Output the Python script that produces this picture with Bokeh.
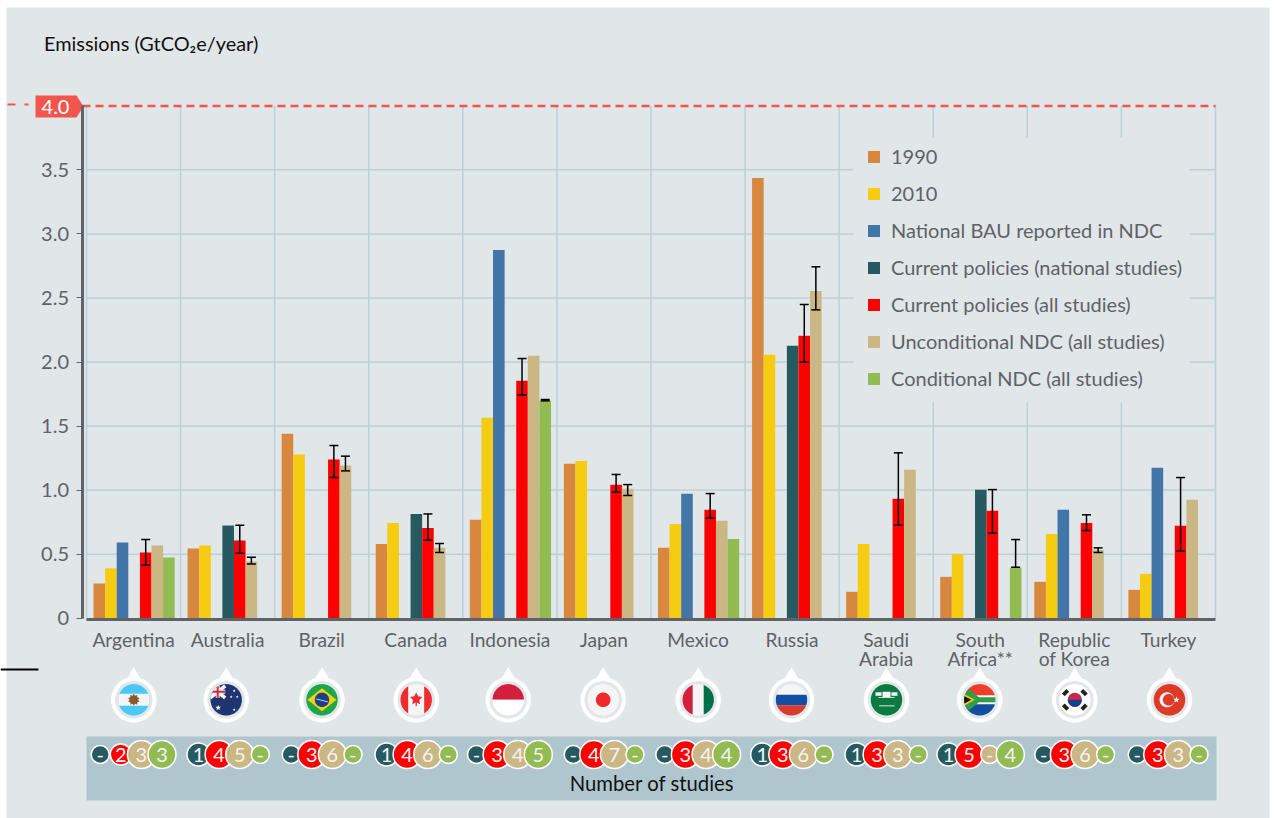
import numpy as np
from bokeh.embed import file_html
from bokeh.resources import INLINE
from bokeh.plotting import figure
from bokeh.core.properties import value
from bokeh.models import LinearAxis, FixedTicker, Range1d

# ---------- data ----------
countries = ["Argentina", "Australia", "Brazil", "Canada", "Indonesia", "Japan", "Mexico", "Russia",
             "Saudi\nArabia", "South\nAfrica**", "Republic\nof Korea", "Turkey"]
y1990   = [.27, .544, 1.44, .58, .768, 1.205, .549, 3.437, .206, .323, .284, .221]
y2010   = [.39, .567, 1.278, .744, 1.564, 1.228, .736, 2.056, .58, .502, .658, .346]
bau     = [.59, None, None, None, 2.875, None, .971, None, None, None, .846, 1.174]
cp_nat  = [None, .723, None, .814, None, None, None, 2.126, None, 1.002, None, None]
cp_all  = [.513, .606, 1.239, .705, 1.853, 1.041, .846, 2.204, .932, .838, .744, .721]
uncond  = [.567, .442, 1.192, .549, 2.048, 1.01, .76, 2.555, 1.158, None, .533, .924]
cond    = [.474, None, None, None, 1.697, None, .619, None, None, .393, None, None]
cp_low  = [.414, .507, 1.098, .609, 1.743, .984, .781, 1.998, .726, .664, .684, .523]
cp_high = [.614, .726, 1.348, .814, 2.027, 1.122, .973, 2.449, 1.291, 1.004, .807, 1.098]
un_low  = [None, .424, 1.15, .513, None, .958, None, 2.407, None, None, .513, None]
un_high = [None, .476, 1.265, .583, None, 1.043, None, 2.743, None, None, .549, None]
co_low  = [None, None, None, None, 1.697, None, None, None, None, .398, None, None]
co_high = [None, None, None, None, 1.707, None, None, None, None, .614, None, None]

n_cp_nat = ["-", "1", "-", "1", "-", "-", "-", "1", "1", "1", "-", "-"]
n_cp_all = ["2", "4", "3", "4", "3", "4", "3", "3", "3", "5", "3", "3"]
n_uncond = ["3", "5", "6", "6", "4", "7", "4", "6", "3", "-", "6", "3"]
n_cond   = ["3", "-", "-", "-", "5", "-", "4", "-", "-", "4", "-", "-"]

series_names = ["1990", "2010", "National BAU reported in NDC", "Current policies (national studies)",
                "Current policies (all studies)", "Unconditional NDC (all studies)", "Conditional NDC (all studies)"]
series_vals = [y1990, y2010, bau, cp_nat, cp_all, uncond, cond]
series_cols = ["#D8883E", "#F5CC12", "#4276A8", "#265A60", "#FF0000", "#CBB784", "#92BC52"]
y_ticks = [0, .5, 1, 1.5, 2, 2.5, 3, 3.5]
y_tick_labels = ["0", "0.5", "1.0", "1.5", "2.0", "2.5", "3.0", "3.5"]

BG, GRID, GREY = "#E1E6E9", "#BCD0D9", "#5F6266"
FONT = value("Lato")

# ---------- page pixel <-> data ----------
PXU, PYU = 94.08, 128.1
def PX(x): return (np.asarray(x, dtype=float) - 86) / PXU
def PY(y): return (617.7 - np.asarray(y, dtype=float)) / PYU

W, H = 1275, 818
p = figure(width=W, height=H, output_backend="svg", toolbar_location=None,
           x_axis_type=None, y_axis_type=None, min_border=0, outline_line_color=None,
           background_fill_color="#FFFFFF", border_fill_color="#FFFFFF",
           x_range=Range1d(float(PX(0)), float(PX(W))), y_range=Range1d(float(PY(H)), float(PY(0))))

# panel
p.quad(left=[float(PX(6))], right=[float(PX(1269))], top=[float(PY(7))], bottom=[float(PY(818))],
       fill_color=BG, line_color=None, level="image")
# grid
p.segment(x0=list(range(13)), y0=[0] * 13, x1=list(range(13)), y1=[4] * 13,
          line_color=GRID, line_width=1.5, level="image")
p.segment(x0=[0] * 7, y0=y_ticks[1:], x1=[12] * 7, y1=y_ticks[1:],
          line_color=GRID, line_width=1.5, level="image")
# gap in the grid behind the legend
p.quad(left=[float(PX(853))], right=[float(PX(1189))], top=[float(PY(137))], bottom=[float(PY(402))],
       fill_color=BG, line_color=None, level="underlay")

# bars
SLOT = 11.6 / PXU
START = 7 / PXU
def bx(i, k): return i + START + SLOT * (k + .5)
for k, (nm, vals, col) in enumerate(zip(series_names, series_vals, series_cols)):
    xs = [bx(i, k) for i, v in enumerate(vals) if v is not None]
    ts = [v for v in vals if v is not None]
    p.vbar(x=xs, top=ts, bottom=0, width=SLOT, fill_color=col, line_color=None, legend_label=nm)

# error bars
for k, lo, hi in [(4, cp_low, cp_high), (5, un_low, un_high), (6, co_low, co_high)]:
    idx = [i for i, v in enumerate(lo) if v is not None]
    xs = [bx(i, k) for i in idx]
    l = [lo[i] for i in idx]; h = [hi[i] for i in idx]
    p.segment(xs, l, xs, h, line_color="#000000", line_width=1.5)
    p.scatter(xs + xs, l + h, marker="dash", size=9, line_color="#000000", line_width=1.5)

# axes
ya = LinearAxis(fixed_location=float(PX(81.5)), ticker=FixedTicker(ticks=y_ticks),
                major_label_overrides=dict(zip(y_ticks, y_tick_labels)), bounds=(0, 4),
                axis_line_color=GREY, axis_line_width=3, major_tick_line_color=GREY, major_tick_line_width=1,
                major_tick_in=0, major_tick_out=6, minor_tick_line_color=None,
                major_label_text_font="Lato", major_label_text_font_size="20px",
                major_label_text_color=GREY, major_label_standoff=7)
p.add_layout(ya, "left")
xa = LinearAxis(fixed_location=float(PY(618.9)), ticker=FixedTicker(ticks=[i + .5 for i in range(12)]),
                major_label_overrides={i + .5: c for i, c in enumerate(countries)}, bounds=(0, 12),
                axis_line_color=GREY, axis_line_width=3, major_tick_line_color=None, minor_tick_line_color=None,
                major_label_text_font="Lato", major_label_text_font_size="19.2px",
                major_label_text_color=GREY, major_label_standoff=3,
                major_label_text_line_height=0.8)
p.add_layout(xa, "below")

# 4.0 line and badge
RED = "#F2554C"
p.segment(x0=[float(PX(82))], y0=[float(PY(105.5))], x1=[12], y1=[float(PY(105.5))], line_color=RED, line_width=2.5, line_dash="8 5")
p.segment(x0=PX([7, 24]).tolist(), y0=PY([104, 104]).tolist(), x1=PX([15, 28]).tolist(), y1=PY([104, 104]).tolist(),
          line_color=RED, line_width=2)
p.patch(PX([35, 76, 83, 76, 35]).tolist(), PY([95, 95, 106, 117, 117]).tolist(), fill_color=RED, line_color=None)
p.text([float(PX(55))], [float(PY(106.5))], text=["4.0"], text_font=FONT, text_font_size="20px", text_color="#FFFFFF",
       text_align="center", text_baseline="middle")
p.text([float(PX(43.5))], [float(PY(42))], text=["Emissions (GtCO₂e/year)"], text_font=FONT, text_font_size="19.9px",
       text_color="#111111", text_align="left", text_baseline="middle")
p.segment(x0=[float(PX(0))], y0=[float(PY(669))], x1=[float(PX(38))], y1=[float(PY(669))], line_color="#000000", line_width=2)

# ---------- flags ----------
flag_x = [133.3, 225.7, 321.5, 415.7, 507.7, 602.7, 697.7, 791, 886, 979.3, 1074.3, 1169]
FY = 699.3
def circ(cx=0, cy=0, r=15.7, n=72):
    t = np.linspace(0, 2 * np.pi, n, endpoint=False)
    return list(zip(cx + r * np.cos(t), cy + r * np.sin(t)))
def rect(x0, y0, x1, y1): return [(x0, y0), (x1, y0), (x1, y1), (x0, y1)]
def bar(x0, y0, x1, y1, w):
    dx, dy = x1 - x0, y1 - y0
    l = np.hypot(dx, dy); nx, ny = -dy / l * w / 2, dx / l * w / 2
    return [(x0 + nx, y0 + ny), (x1 + nx, y1 + ny), (x1 - nx, y1 - ny), (x0 - nx, y0 - ny)]
def star(cx, cy, r, n=5, inner=.42):
    out = []
    for j in range(2 * n):
        a = np.pi / 2 + j * np.pi / n
        rr = r if j % 2 == 0 else r * inner
        out.append((cx + rr * np.cos(a), cy + rr * np.sin(a)))
    return out
def clip(subject, r=15.7):
    clipper = circ(r=r)
    out = subject
    for a, b in zip(clipper, clipper[1:] + clipper[:1]):
        inp, out = out, []
        if not inp: break
        def side(q): return (b[0]-a[0])*(q[1]-a[1]) - (b[1]-a[1])*(q[0]-a[0])
        for s, e in zip(inp, inp[1:] + inp[:1]):
            d1, d2 = side(s), side(e)
            if (d1 >= 0) != (d2 >= 0):
                t = d1 / (d1 - d2)
                out.append((s[0] + t*(e[0]-s[0]), s[1] + t*(e[1]-s[1])))
            if d2 >= 0: out.append(e)
    return out
WH = "#F5F5F5"
flags = [
 [("#4AC9F7", circ()), (WH, rect(-16, -6, 16, 6)), ("#8A5A2E", star(0, 0, 6, 10, .7))],
 [("#1F3572", circ()), (WH, bar(-16, 14, -1, 2, 3.5)), (WH, bar(-16, 2, -1, 14, 3.5)),
  (WH, rect(-16, 6, -1, 10)), (WH, rect(-10.5, 2, -6.5, 16)),
  ("#D8283A", rect(-16, 7, -1, 9)), ("#D8283A", rect(-9.5, 2, -7.5, 16)),
  (WH, star(-8, -8, 3)), (WH, star(8, 9, 1.6)), (WH, star(5, 3, 1.5)), (WH, star(11, 3, 1.5)), (WH, star(8, -10, 1.6))],
 [("#1EA64B", circ()), ("#F6D10F", [(-14.5, 0), (0, 11.5), (14.5, 0), (0, -11.5)]),
  ("#1C3F87", circ(0, 0, 7.2)), ("#DDE6F2", bar(-6, 1, 6, -2, .8))],
 [(WH, circ()), ("#EF2B2D", rect(-16, -16, -8, 16)), ("#EF2B2D", rect(8, -16, 16, 16)),
  ("#EF2B2D", star(0, .8, 6.5, 5, .5)), ("#EF2B2D", rect(-.6, -6.5, .6, -2))],
 [("#D21F3C", rect(-16, 0, 16, 16)), ("#FFFFFF", rect(-16, -16, 16, 0))],
 [(WH, circ()), ("#EE2A2D", circ(0, 0, 7.3))],
 [(WH, circ()), ("#D21F3C", rect(-16, -16, -5.5, 16)), ("#00704A", rect(5.5, -16, 16, 16))],
 [(WH, circ()), ("#124FA3", rect(-16, -5.5, 16, 5)), ("#D83A2E", rect(-16, -16, 16, -5.5))],
 [("#0B7A40", circ()), (WH, rect(-11, 4, -5, 7.5)), (WH, rect(-4, 2.5, 4, 8)), (WH, rect(5, 4, 11, 7.5)),
  (WH, rect(-8, 1.8, 8, 2.6)), (WH, rect(-7.5, -6.5, 8, -5.6))],
 [(WH, circ()), ("#EE3D2C", rect(-16, 4.5, 16, 16)), ("#134FA0", rect(-16, -16, 16, -4.5)),
  ("#2E9E47", [(-16, 10), (-10, 10), (-1, 2.5), (16, 2.5), (16, -2.5), (-1, -2.5), (-10, -10), (-16, -10)]),
  ("#F6C90E", [(-16, 6), (-5, 0), (-16, -6)]), ("#111111", [(-16, 4), (-8.5, 0), (-16, -4)])],
 [("#FFFFFF", circ()), ("#C8264F", circ(0, 0, 7)), ("#173E86", clip(rect(-7, -7, 7, 0), 7)),
  ("#222222", bar(-11.5, 5, -7, 9.5, 4)), ("#222222", bar(11.5, 5, 7, 9.5, 4)),
  ("#222222", bar(-11.5, -5, -7, -9.5, 4)), ("#222222", bar(11.5, -5, 7, -9.5, 4))],
 [("#DD3A27", circ()), (WH, circ(-2.5, 0, 7.5)), ("#DD3A27", circ(-.8, 0, 5.8)), (WH, star(7, 0, 3.4))],
]
pin_xs, pin_ys, pin_c = [], [], []
def add(cx, pts, col):
    a = np.array(pts)
    pin_xs.append(PX(cx + a[:, 0]).tolist()); pin_ys.append(PY(FY - a[:, 1]).tolist()); pin_c.append(col)
for cx, layers in zip(flag_x, flags):
    add(cx, [(-7, 21), (0, 32.5), (7, 21)], "#FFFFFF")
    add(cx, circ(r=22.7), "#FFFFFF")
    add(cx, circ(r=18.7), BG)
    for col, pts in layers:
        c = clip(pts)
        if c: add(cx, c, col)
p.patches(pin_xs, pin_ys, fill_color=pin_c, line_color=None)

# ---------- number of studies ----------
p.quad(left=[float(PX(86))], right=[float(PX(1216))], top=[float(PY(736))], bottom=[float(PY(800))],
       fill_color="#AFC6CF", line_color=None)
bub_start = [99.7, 198, 290.7, 386, 476, 572.7, 664.3, 761.7, 856, 948, 1043.3, 1136.7]
BUB_STEP = 20.6
radius = {"-": 9, "1": 11.5, "2": 10.5}
for k, (labels, col) in enumerate(zip([n_cp_nat, n_cp_all, n_uncond, n_cond], series_cols[3:])):
    xs = PX([b + k * BUB_STEP for b in bub_start]).tolist()
    ys = [float(PY(754))] * 12
    sz = [2 * radius.get(n, 14) for n in labels]
    p.scatter(xs, ys, size=sz, fill_color=col, line_color="#FFFFFF", line_width=1.5)
    p.text(xs, [float(PY(754.5))] * 12, text=labels, text_font=FONT, text_font_size="20px", text_color="#F4F4F4",
           text_align="center", text_baseline="middle")
p.text([float(PX(651.5))], [float(PY(782.5))], text=["Number of studies"], text_font=FONT, text_font_size="20.3px",
       text_color="#111111", text_align="center", text_baseline="middle")

# legend
lg = p.legend[0]
lg.location = (866, H - 390)
lg.background_fill_alpha = 0
lg.border_line_color = None
lg.padding = 8
lg.margin = 0
lg.spacing = 13
lg.glyph_width = 15
lg.glyph_height = 15
lg.label_height = 20
lg.label_standoff = 10
lg.label_text_font = "Lato"
lg.label_text_font_size = "20px"
lg.label_text_color = GREY

open("out.html", "w").write(file_html(p, INLINE))
